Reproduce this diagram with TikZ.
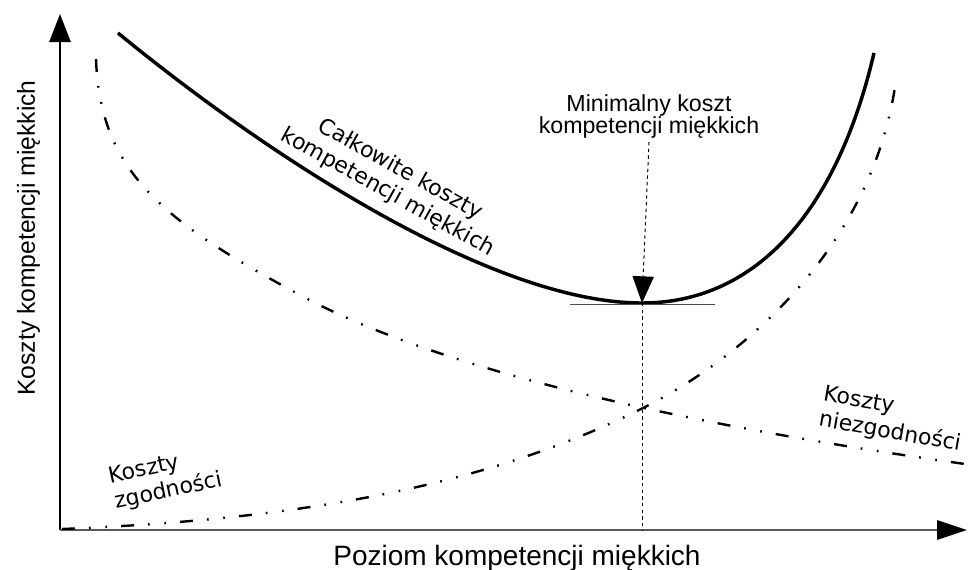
\documentclass[tikz,border=0pt]{standalone}
\usepackage{fontspec}
\setmainfont{Liberation Sans}
\newfontfamily\dejavu{DejaVu Sans}
\usetikzlibrary{arrows.meta}
\newcommand{\minlblfont}{\fontsize{17.4}{16.5}\selectfont\lineskiplimit=-20pt\relax}
\begin{document}
\begin{tikzpicture}[x=0.75pt,y=-0.75pt,
  axisline/.style={line width=1.1pt},
  dashdotdot/.style={line width=1.8pt, dash pattern=on 9.75pt off 10.5pt on 1.3pt off 11pt on 1.3pt off 10.5pt},
  totalcurve/.style={line width=2.6pt},
  rotlabel/.style={font=\dejavu\fontsize{16.5}{19.5}\selectfont, inner sep=0pt},
  guide/.style={line width=0.75pt, dash pattern=on 2.5pt off 2.5pt}
]
\useasboundingbox (0,0) rectangle (968,569);
% axes
\coordinate (O) at (60,530);
\coordinate (ytop) at (60,14);
\coordinate (xend) at (967,530);
\draw[axisline, -{Triangle[length=21pt,width=16pt]}] (O) -- (ytop);
\draw[line width=1.5pt, gray!70!black, -{Triangle[length=22.5pt,width=14.5pt,color=black]}] (O) -- (xend);
% axis labels
\node[font=\fontsize{21}{24}\selectfont, anchor=base, inner sep=0pt] (xlbl) at (517,565) {Poziom kompetencji miękkich};
\node[font=\fontsize{18.5}{22}\selectfont, anchor=base, rotate=90, inner sep=0pt] (ylbl) at (35,238) {Koszty kompetencji miękkich};
% curves
\coordinate (nzA) at (96,59);
\coordinate (nzB) at (300,295);
\coordinate (nzC) at (965,464);
\draw[dashdotdot] (nzA) .. controls (100,170) and (160,220) .. (nzB)
                        .. controls (450,376) and (715,429) .. (nzC);
\coordinate (zgA) at (62,529);
\coordinate (zgB) at (643,408);
\coordinate (zgC) at (896,80);
\draw[dashdotdot] (zgA) .. controls (312,519) and (493,483) .. (zgB)
                        .. controls (743,358) and (873.5,246.5) .. (zgC);
\coordinate (minpt) at (642,303);
\coordinate (tcA) at (118,33);
\coordinate (tcC) at (874,53);
\draw[totalcurve] (tcA) .. controls (268,156) and (492,303) .. (minpt)
                        .. controls (752,303) and (835.5,217.5) .. (tcC);
% minimum
\coordinate (tanL) at (570,304);
\coordinate (tanR) at (715,304);
\coordinate (minfoot) at (642,530);
\draw[line width=0.75pt, gray!60!black] (tanL) -- (tanR);
\node[font=\minlblfont, align=center, anchor=base, inner sep=0pt] (minlbl) at (649,133) {Minimalny koszt\\kompetencji miękkich};
\draw[guide, -{Triangle[length=20pt,width=16pt]}] ([yshift=-3pt]minlbl.south) -- (minpt);
\draw[guide] (minpt) -- (minfoot);
% curve labels
\node[rotlabel, align=center, rotate=-29] (total) at (394,181) {Całkowite koszty\\kompetencji miękkich};
\node[rotlabel, align=left, rotate=-10] (niez) at (892,420) {Koszty\\niezgodności};
\node[rotlabel, align=left, rotate=12] (zgod) at (166,479) {Koszty\\zgodności};
\end{tikzpicture}
\end{document}
